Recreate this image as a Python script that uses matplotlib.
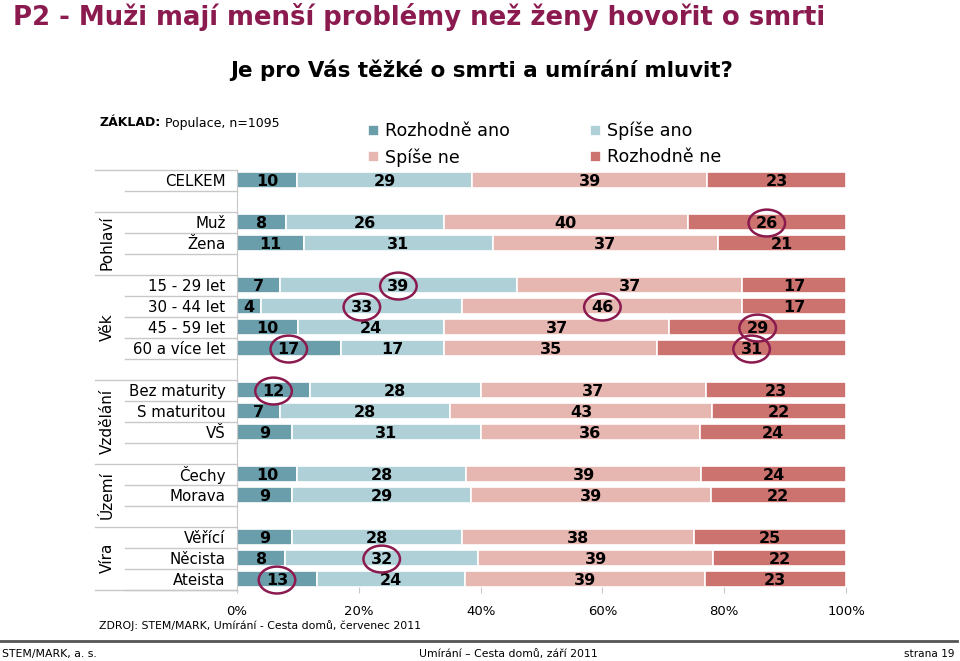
import matplotlib.pyplot as plt
from matplotlib.patches import Ellipse
import numpy as np

# categories (None = empty spacer row)
rows = ["CELKEM", None, "Muž", "Žena", None,
        "15 - 29 let", "30 - 44 let", "45 - 59 let", "60 a více let", None,
        "Bez maturity", "S maturitou", "VŠ", None,
        "Čechy", "Morava", None,
        "Věřící", "Něcista", "Ateista"]
series = ["Rozhodně ano", "Spíše ano", "Spíše ne", "Rozhodně ne"]
colors = ["#6b9eab", "#afd0d7", "#e6b6b1", "#cc736f"]

rozhodne_ano = [10, 8, 11, 7, 4, 10, 17, 12, 7, 9, 10, 9, 9, 8, 13]
spise_ano = [29, 26, 31, 39, 33, 24, 17, 28, 28, 31, 28, 29, 28, 32, 24]
spise_ne = [39, 40, 37, 37, 46, 37, 35, 37, 43, 36, 39, 39, 38, 39, 39]
rozhodne_ne = [23, 26, 21, 17, 17, 29, 31, 23, 22, 24, 24, 22, 25, 22, 23]

# groups: (label, first row, last row incl. spacer)
groups = [("Pohlaví", 2, 4), ("Věk", 5, 9), ("Vzdělání", 10, 13),
          ("Území", 14, 16), ("Víra", 17, 19)]

# highlighted values (category, series)
circled = [("Muž", "Rozhodně ne"), ("15 - 29 let", "Spíše ano"),
           ("30 - 44 let", "Spíše ano"), ("30 - 44 let", "Spíše ne"),
           ("45 - 59 let", "Rozhodně ne"), ("60 a více let", "Rozhodně ano"),
           ("60 a více let", "Rozhodně ne"), ("Bez maturity", "Rozhodně ano"),
           ("Něcista", "Spíše ano"), ("Ateista", "Rozhodně ano")]

W, H = 960, 661
fig = plt.figure(figsize=(W / 100, H / 100), dpi=100)
plt.rcParams['font.family'] = ['DejaVu Sans']

ax_l, ax_r, ax_t, ax_b = 237, 846, 169.5, 589.5
ax = fig.add_axes([ax_l / W, 1 - ax_b / H, (ax_r - ax_l) / W, (ax_b - ax_t) / H])

data = np.array([rozhodne_ano, spise_ano, spise_ne, rozhodne_ne], dtype=float).T
cats = [r for r in rows if r is not None]
ypos = [i for i, r in enumerate(rows) if r is not None]
norm = data / data.sum(axis=1, keepdims=True) * 100

left = np.zeros(len(cats))
centers = {}
for j, s in enumerate(series):
    ax.barh(ypos, norm[:, j], left=left, height=0.72, color=colors[j],
            edgecolor="white", linewidth=1.2, label=s)
    for k, (y, v) in enumerate(zip(ypos, data[:, j])):
        cx = left[k] + norm[k, j] / 2
        centers[(cats[k], s)] = (cx, y)
        ax.text(cx, y + 0.05, f"{int(v)}", ha="center", va="center",
                fontsize=11.5, fontweight="bold", color="black")
    left += norm[:, j]

for c, s in circled:
    cx, cy = centers[(c, s)]
    ax.add_patch(Ellipse((cx, cy + 0.05), 6.0, 1.28, fill=False,
                         edgecolor="#8b1a4f", linewidth=1.8, clip_on=False, zorder=5))

ax.set_xlim(0, 100)
ax.set_ylim(19.5, -0.5)
ax.set_yticks([])
ax.set_xticks(range(0, 101, 20))
ax.set_xticklabels([f"{t}%" for t in range(0, 101, 20)], fontsize=9.5)
ax.tick_params(axis="x", length=4, direction="inout", color="#c8c8c8", pad=9)
for sp in ["top", "right", "bottom"]:
    ax.spines[sp].set_visible(False)
ax.spines["left"].set_color("#c8c8c8")

# row labels and separator lines in the left margin
line_c = "#c8c8c8"
for i, r in enumerate(rows):
    if r is None:
        continue
    ax.text(-1.9, i + 0.05, r, ha="right", va="center", fontsize=10.8)
    ax.plot([-18.4, 0], [i + 0.5, i + 0.5], color=line_c, lw=1, clip_on=False)
group_tops = [-0.5] + [g[1] - 0.5 for g in groups] + [19.5]
for y in group_tops:
    ax.plot([-23.3, 0], [y, y], color=line_c, lw=1, clip_on=False)
for name, a, b in groups:
    ax.text(-21.3, (a + b) / 2, name, rotation=90, ha="center", va="center", fontsize=11)

# titles
fig.text(13 / W, 1 - 17 / H, "P2 - Muži mají menší problémy než ženy hovořit o smrti",
         fontsize=18.7, fontweight="bold", color="#8b1a4f", va="center", ha="left")
fig.text(482 / W, 1 - 70 / H, "Je pro Vás těžké o smrti a umírání mluvit?",
         fontsize=15.4, fontweight="bold", va="center", ha="center")
t1 = fig.text(100 / W, 1 - 123 / H, "ZÁKLAD:", fontsize=9, fontweight="bold", va="center")
ax.annotate(" Populace, n=1095", xy=(1, 0.5), xycoords=t1, va="center", ha="left", fontsize=9)

handles, labels = ax.get_legend_handles_labels()
order = [0, 2, 1, 3]
fig.legend([handles[i] for i in order], [labels[i] for i in order], ncol=2,
           loc="upper left", bbox_to_anchor=(368 / W, 1 - 122 / H), frameon=False,
           fontsize=12.6, handlelength=0.62, handleheight=0.62, handletextpad=0.35,
           columnspacing=4.6, labelspacing=0.45, borderpad=0, borderaxespad=0)

fig.text(99 / W, 1 - 626 / H, "ZDROJ: STEM/MARK, Umírání - Cesta domů, červenec 2011",
         fontsize=7.8, va="center")

# footer
fig.add_artist(plt.Line2D([0, 957 / W], [1 - 641 / H, 1 - 641 / H], color="#555555", lw=2))
fig.text(2 / W, 1 - 654 / H, "STEM/MARK, a. s.", fontsize=7.8, va="center")
fig.text(508 / W, 1 - 654 / H, "Umírání – Cesta domů, září 2011", fontsize=7.8,
         va="center", ha="center")
fig.text(955 / W, 1 - 654 / H, "strana 19", fontsize=7.6, va="center", ha="right")

fig.savefig("out.png", dpi=100, facecolor="white")
